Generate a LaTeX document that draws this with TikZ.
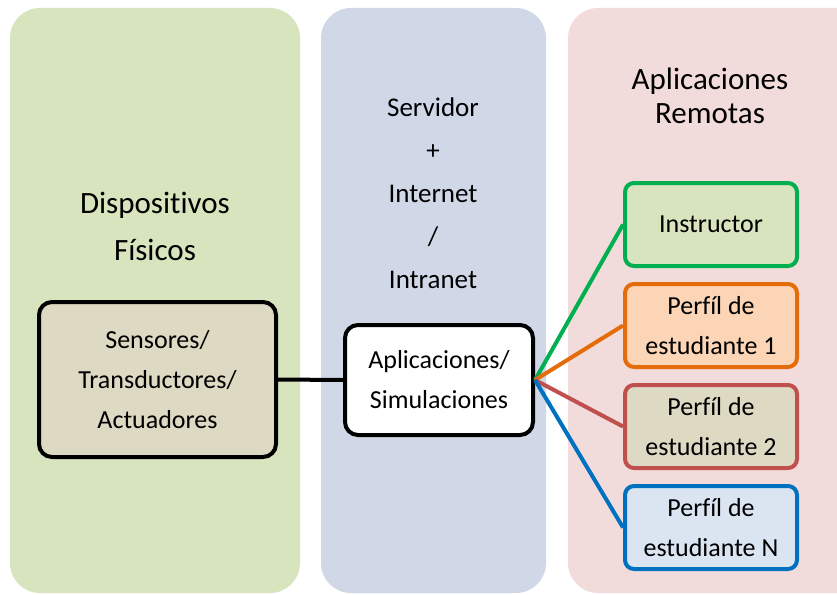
\documentclass[tikz,border=0pt]{standalone}
\usepackage{fontspec}
\setmainfont{Carlito}[Ligatures=NoCommon]
\usetikzlibrary{positioning}

\definecolor{panelgreen}{HTML}{D7E4BD}
\definecolor{panelblue}{HTML}{D0D8E8}
\definecolor{panelpink}{HTML}{F2DCDB}
\definecolor{boxtan}{HTML}{DDD9C3}
\definecolor{lineGreen}{HTML}{00B050}
\definecolor{lineOrange}{HTML}{E46C0A}
\definecolor{lineRed}{HTML}{C0504D}
\definecolor{lineBlue}{HTML}{0070C0}
\definecolor{fillPeach}{HTML}{FBD5B5}
\definecolor{fillBlue}{HTML}{DBE5F1}

\begin{document}
\begin{tikzpicture}[
    x=1pt, y=-1pt,
    panel/.style={rounded corners=30pt},
    title/.style={align=center, font=\fontsize{31}{47}\selectfont},
    block/.style={draw, line width=4pt, rounded corners=13pt, align=center, inner sep=2pt, font=\fontsize{26}{40}\selectfont},
    remote/.style={draw, line width=4pt, rounded corners=9pt, align=center, inner sep=2pt, minimum width=172pt, minimum height=83pt, font=\fontsize{26}{40}\selectfont},
    link/.style={line width=4pt}
]
\clip (0,0) rectangle (837,594);
\fill[white] (0,0) rectangle (837,594);
% columns
\fill[panelgreen, panel] (10,8) rectangle (300,593);
\fill[panelblue, panel] (321,8) rectangle (546,593);
\fill[panelpink, panel] (568,8) rectangle (880,593);

% column titles
\node[title] (devTitle) at (155,226) {Dispositivos\\ Físicos};
\node[align=center, font=\fontsize{27}{43}\selectfont] (srvTitle) at (433,193) {Servidor\\ +\\ Internet\\ /\\ Intranet};
\node[title, font=\fontsize{31}{34}\selectfont] (remTitle) at (710,96) {Aplicaciones\\ Remotas};

% boxes
\node[block, fill=boxtan, minimum width=237pt, minimum height=155pt] (sensors) at (157.5,379.5) {Sensores/\\ Transductores/\\ Actuadores};
\node[block, fill=white, minimum width=188pt, minimum height=110pt] (apps) at (439,380) {Aplicaciones/\\ Simulaciones};
\node[remote, fill=panelgreen, draw=lineGreen] (instr) at (711,224.5) {Instructor};
\node[remote, fill=fillPeach, draw=lineOrange, below=14pt of instr] (stud1) {Perfíl de\\ estudiante 1};
\node[remote, fill=boxtan, draw=lineRed, below=14pt of stud1] (stud2) {Perfíl de\\ estudiante 2};
\node[remote, fill=fillBlue, draw=lineBlue, below=14pt of stud2] (studN) {Perfíl de\\ estudiante N};

% links
\draw[link] (sensors.east) -- (apps.west);
\draw[link, lineGreen] (apps.east) -- (instr.west);
\draw[link, lineOrange] (apps.east) -- (stud1.west);
\draw[link, lineRed] (apps.east) -- (stud2.west);
\draw[link, lineBlue] (apps.east) -- (studN.west);
\end{tikzpicture}
\end{document}
